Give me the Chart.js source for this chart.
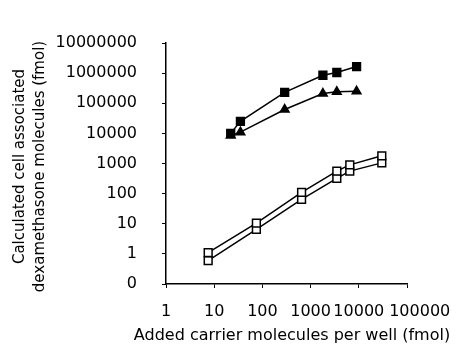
<!DOCTYPE html>
<html>
<head>
<meta charset="utf-8">
<script src="https://cdn.jsdelivr.net/npm/chart.js@4/dist/chart.umd.min.js"></script>
<style>
  html, body { margin: 0; padding: 0; background: #fff; }
  #wrap { width: 465px; height: 353px; }
</style>
</head>
<body>
<div id="wrap"><canvas id="chart" width="465" height="353"></canvas></div>
<script>
// values (log-log)
var upperX = [22, 35, 290, 1800, 3500, 9000];
var filledSquareY = [10000, 25000, 230000, 850000, 1050000, 1650000];
var filledTriangleY = [8500, 11000, 62000, 210000, 240000, 250000];

var lowerX = [7.5, 75, 650, 3500, 6500, 30000];
var openUpperY = [1.1, 10.5, 110, 560, 900, 1800];
var openLowerY = [0.6, 6.5, 65, 320, 560, 1050];

var xTickValues = [1, 10, 100, 1000, 10000, 100000];
var xTickLabels = ['1', '10', '100', '1000', '10000', '100000'];
var yTickValues = [0.1, 1, 10, 100, 1000, 10000, 100000, 1000000, 10000000];
var yTickLabels = ['0', '1', '10', '100', '1000', '10000', '100000', '1000000', '10000000'];

var xTitle = 'Added carrier molecules per well (fmol)';
var yTitle = ['Calculated cell associated', 'dexamethasone molecules (fmol)'];

function pts(xs, ys){
    return xs.map((x, i) => ({x: x, y: ys[i]}));
}

function series(xs, ys, shape, filled){
    return {
        data: pts(xs, ys),
        showLine: true,
        borderColor: '#000',
        borderWidth: 1.5,
        pointStyle: shape,
        pointRadius: shape == 'triangle' ? 5 : 5.5,
        pointBackgroundColor: filled ? '#000' : '#fff',
        pointBorderColor: '#000',
        pointBorderWidth: 1.5,
        tension: 0
    };
}

// chart.js squeezes axis titles to the axis length, so the titles are drawn here
var axisTitles = {
    id: 'axisTitles',
    afterDraw(chart){
        var ctx = chart.ctx;
        var area = chart.chartArea;
        ctx.save();
        ctx.fillStyle = '#000';
        ctx.textAlign = 'center';
        ctx.textBaseline = 'middle';
        ctx.font = '16px "DejaVu Sans"';
        ctx.fillText(xTitle, 292, 336);
        ctx.font = '15px "DejaVu Sans"';
        ctx.translate(0, (area.top + area.bottom) / 2 + 3);
        ctx.rotate(-Math.PI / 2);
        yTitle.forEach((line, i) => ctx.fillText(line, 0, 20 + i * 20));
        ctx.restore();
    }
};

new Chart(document.getElementById('chart'), {
    type: 'scatter',
    data: {
        datasets: [
            series(upperX, filledSquareY, 'rect', true),
            series(upperX, filledTriangleY, 'triangle', true),
            series(lowerX, openUpperY, 'rect', false),
            series(lowerX, openLowerY, 'rect', false)
        ]
    },
    plugins: [axisTitles],
    options: {
        responsive: false,
        animation: false,
        layout: { padding: { left: 0, right: 58, top: 43, bottom: 0 } },
        plugins: { legend: { display: false }, tooltip: { enabled: false } },
        scales: {
            x: {
                type: 'logarithmic',
                min: 1, max: 100000,
                afterBuildTicks: s => { s.ticks = xTickValues.map(v => ({value: v})); },
                afterFit: s => { s.height = 69; },
                grid: { drawOnChartArea: false, drawTicks: true, tickLength: 4, color: '#000' },
                border: { color: '#000', width: 1.5 },
                ticks: {
                    color: '#000', font: { family: 'DejaVu Sans', size: 16 }, padding: 14,
                    maxRotation: 0, autoSkip: false,
                    // last label sits a bit right of its tick in the original
                    callback: (v, i) => (i == xTickLabels.length - 1 ? '     ' : '') + xTickLabels[i]
                }
            },
            y: {
                type: 'logarithmic',
                min: 0.1, max: 10000000,
                afterBuildTicks: s => { s.ticks = yTickValues.map(v => ({value: v})); },
                afterFit: s => { s.width = 166; },
                grid: { drawOnChartArea: false, drawTicks: true, tickLength: 4, color: '#000' },
                border: { color: '#000', width: 1.5 },
                ticks: {
                    color: '#000', font: { family: 'DejaVu Sans', size: 16 }, padding: 25, autoSkip: false,
                    callback: v => yTickLabels[yTickValues.indexOf(v)]
                }
            }
        }
    }
});
</script>
</body>
</html>
